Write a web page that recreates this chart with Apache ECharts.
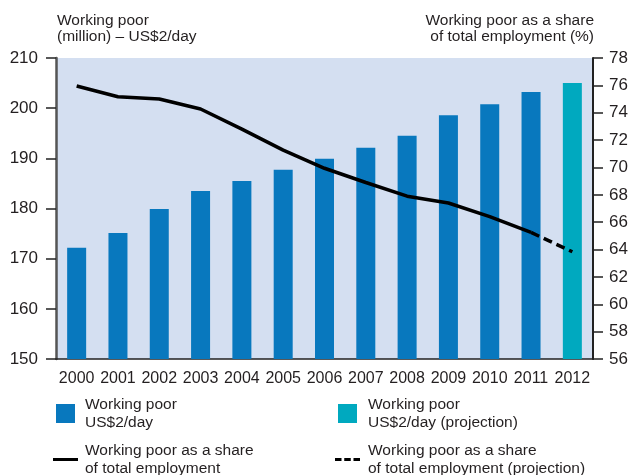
<!DOCTYPE html>
<html>
<head>
<meta charset="utf-8">
<script src="https://cdn.jsdelivr.net/npm/echarts@6/dist/echarts.min.js"></script>
<style>
  html, body { margin: 0; padding: 0; background: #fff; }
  #chart { width: 635px; height: 475px; }
</style>
</head>
<body>
<div id="chart"></div>
<script>
// Years on the category axis
const years = ['2000', '2001', '2002', '2003', '2004', '2005', '2006', '2007', '2008', '2009', '2010', '2011', '2012'];
// Working poor at US$2/day, millions (2012 is a projection)
const workingPoor = [172.2, 175.1, 179.9, 183.5, 185.5, 187.7, 189.9, 192.1, 194.5, 198.6, 200.8, 203.2, null];
const workingPoorProjection = [null, null, null, null, null, null, null, null, null, null, null, null, 205.0];
// Working poor as a share of total employment, %
const shareOfEmployment = [75.95, 75.17, 75.0, 74.27, 72.8, 71.27, 69.94, 68.9, 67.9, 67.4, 66.4, 65.25, null];
const shareProjection = [null, null, null, null, null, null, null, null, null, null, null, 65.25, 63.84];
// Tick settings
const leftAxisRange = { min: 150, max: 210, interval: 10 };
const rightAxisRange = { min: 56, max: 78, interval: 2 };

const sans = '"Liberation Sans", Arial, sans-serif';
const textColor = '#231f20';

const chart = echarts.init(document.getElementById('chart'), null, { renderer: 'canvas' });

// One legend block per entry, two columns
function legendBlock(left, top, name, icon, w, h, pad) {
  return {
    orient: 'vertical',
    left: left, top: top,
    padding: 0,
    itemWidth: w, itemHeight: h,
    selectedMode: false,
    textStyle: { fontFamily: sans, fontSize: 15.5, color: textColor, lineHeight: 18.5, padding: [0, 0, 0, pad] },
    data: [{ name: name, icon: icon }]
  };
}

const dashIcon = 'path://M0,0h6.5v3h-6.5zM9.25,0h6.5v3h-6.5zM18.5,0h6.5v3h-6.5z';

chart.setOption({
  animation: false,
  backgroundColor: '#ffffff',
  graphic: [
    {
      type: 'text', x: 57, y: 12,
      style: { text: 'Working poor\n(million) – US$2/day', font: '15.5px ' + sans, fill: textColor, lineHeight: 16.5, align: 'left', verticalAlign: 'top' }
    },
    {
      type: 'text', x: 594, y: 12,
      style: { text: 'Working poor as a share\nof total employment (%)', font: '15.5px ' + sans, fill: textColor, lineHeight: 16.5, align: 'right', verticalAlign: 'top' }
    }
  ],
  legend: [
    legendBlock(56, 395, 'Working poor\nUS$2/day', 'rect', 19, 19, 5),
    legendBlock(338, 395, 'Working poor\nUS$2/day (projection)', 'rect', 19, 19, 6),
    legendBlock(53, 441, 'Working poor as a share\nof total employment', 'rect', 25, 3, 2),
    legendBlock(335, 441, 'Working poor as a share\nof total employment (projection)', dashIcon, 25, 3, 3)
  ],
  grid: {
    left: 56, right: 42, top: 58, bottom: 116,
    show: true, backgroundColor: '#d4dff1', borderWidth: 0
  },
  xAxis: {
    type: 'category',
    data: years,
    axisLine: { show: true, lineStyle: { color: '#222', width: 1.5 } },
    axisTick: { show: false },
    axisLabel: { interval: 0, fontFamily: sans, fontSize: 16, color: textColor, margin: 12 },
    splitLine: { show: false }
  },
  yAxis: [
    {
      type: 'value',
      position: 'left',
      min: leftAxisRange.min, max: leftAxisRange.max, interval: leftAxisRange.interval,
      axisLine: { show: true, lineStyle: { color: '#555', width: 2.5 } },
      axisTick: { show: true, length: 10, lineStyle: { color: '#222', width: 1.5 } },
      axisLabel: { fontFamily: sans, fontSize: 17, color: textColor, margin: 18 },
      splitLine: { show: false }
    },
    {
      type: 'value',
      position: 'right',
      min: rightAxisRange.min, max: rightAxisRange.max, interval: rightAxisRange.interval,
      axisLine: { show: true, lineStyle: { color: '#222', width: 2 } },
      axisTick: { show: true, length: 10, lineStyle: { color: '#222', width: 1.5 } },
      axisLabel: { fontFamily: sans, fontSize: 17, color: textColor, margin: 16 },
      splitLine: { show: false }
    }
  ],
  series: [
    {
      name: 'Working poor\nUS$2/day',
      type: 'bar',
      data: workingPoor,
      barWidth: 19,
      barGap: '-100%',
      itemStyle: { color: '#0878be' }
    },
    {
      name: 'Working poor\nUS$2/day (projection)',
      type: 'bar',
      data: workingPoorProjection,
      barWidth: 19,
      barGap: '-100%',
      itemStyle: { color: '#00a9bf' }
    },
    {
      name: 'Working poor as a share\nof total employment',
      type: 'line',
      yAxisIndex: 1,
      data: shareOfEmployment,
      symbol: 'none',
      itemStyle: { color: '#000' },
      lineStyle: { color: '#000', width: 3.5 }
    },
    {
      name: 'Working poor as a share\nof total employment (projection)',
      type: 'line',
      yAxisIndex: 1,
      data: shareProjection,
      symbol: 'none',
      itemStyle: { color: '#000' },
      lineStyle: { color: '#000', width: 3.5, type: [9, 5] }
    }
  ]
});
</script>
</body>
</html>
